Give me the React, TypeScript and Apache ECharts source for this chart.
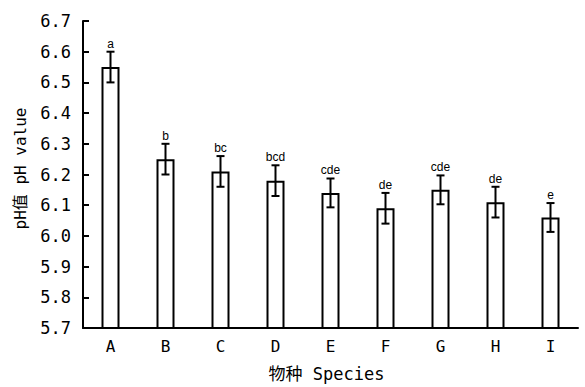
import React, { useEffect, useRef } from "react";
import * as echarts from "echarts";

const categories = ["A", "B", "C", "D", "E", "F", "G", "H", "I"];
const means = [6.55, 6.25, 6.21, 6.18, 6.14, 6.09, 6.15, 6.11, 6.06];
const errors = [0.05, 0.05, 0.05, 0.05, 0.047, 0.05, 0.047, 0.05, 0.047];
const letters = ["a", "b", "bc", "bcd", "cde", "de", "cde", "de", "e"];
const yTicks = { min: 5.7, max: 6.7, interval: 0.1 };

const monoFont = "'DejaVu Sans Mono', 'Noto Sans CJK SC', monospace";

export default function App() {
  const ref = useRef<HTMLDivElement>(null);
  useEffect(() => {
    if (!ref.current) return;
    const chart = echarts.init(ref.current, null, { renderer: "svg" });
    const errData = categories.map((_, i) => [i, means[i], errors[i]]);
    chart.setOption({
      animation: false,
      backgroundColor: "#fff",
      grid: { left: 83, right: 7, top: 21, bottom: 58 },
      xAxis: {
        type: "category",
        data: categories,
        name: "物种 Species",
        nameLocation: "middle",
        nameGap: 37,
        nameTextStyle: { fontFamily: monoFont, fontSize: 17, color: "#000", padding: [0, 8, 0, 0] },
        axisLine: { lineStyle: { color: "#000", width: 2 } },
        axisTick: { show: false },
        axisLabel: { fontFamily: monoFont, fontSize: 16, color: "#000", margin: 10 },
      },
      yAxis: {
        type: "value",
        min: yTicks.min,
        max: yTicks.max,
        interval: yTicks.interval,
        name: "pH值 pH value",
        nameLocation: "middle",
        nameGap: 55,
        nameTextStyle: { fontFamily: monoFont, fontSize: 16, color: "#000", padding: [0, 0, 0, 12] },
        axisLine: { show: true, lineStyle: { color: "#000", width: 2 } },
        axisTick: { show: true, inside: true, length: 6, lineStyle: { color: "#000", width: 2 } },
        splitLine: { show: false },
        axisLabel: {
          fontFamily: monoFont,
          fontSize: 17,
          color: "#000",
          margin: 12,
          formatter: (v: number) => v.toFixed(1),
        },
      },
      series: [
        {
          type: "bar",
          data: means,
          barWidth: 18,
          itemStyle: { color: "#fff", borderColor: "#000", borderWidth: 2 },
          z: 2,
        },
        {
          type: "custom",
          data: errData,
          encode: { x: 0, y: 1 },
          z: 3,
          renderItem: (params: any, api: any) => {
            const idx = api.value(0);
            const m = api.value(1);
            const e = api.value(2);
            const top = api.coord([idx, m + e]);
            const bot = api.coord([idx, m - e]);
            const hw = 4;
            const style = { stroke: "#000", lineWidth: 2 };
            return {
              type: "group",
              children: [
                { type: "line", shape: { x1: top[0], y1: top[1], x2: bot[0], y2: bot[1] }, style },
                { type: "line", shape: { x1: top[0] - hw, y1: top[1], x2: top[0] + hw, y2: top[1] }, style },
                { type: "line", shape: { x1: bot[0] - hw, y1: bot[1], x2: bot[0] + hw, y2: bot[1] }, style },
                {
                  type: "text",
                  x: top[0],
                  y: top[1] - 2,
                  style: {
                    text: letters[params.dataIndex],
                    fontFamily: "'Liberation Sans', Arial, sans-serif",
                    fontSize: 12,
                    fill: "#000",
                    align: "center",
                    verticalAlign: "bottom",
                  },
                },
              ],
            };
          },
        },
      ],
    });
    return () => chart.dispose();
  }, []);
  return <div ref={ref} style={{ width: 585, height: 387, position: "absolute", left: 0, top: 0 }} />;
}
